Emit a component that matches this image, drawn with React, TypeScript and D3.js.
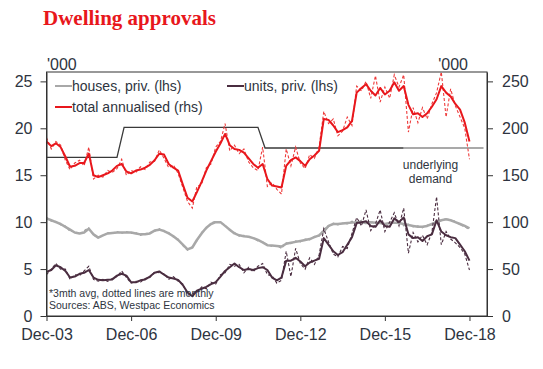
import React, { useEffect, useRef } from 'react';
import * as d3 from 'd3';

// two-monthly readings, Dec-03 .. Dec-18
const totalAvg = [186, 181, 184, 180, 170, 159, 160, 163, 163, 173, 150, 148, 150, 152, 155, 160, 162, 154, 152, 155, 156, 158, 161, 166, 173, 172, 162, 158, 155, 140, 126, 122, 132, 143, 155, 165, 175, 184, 194, 182, 178, 177, 174, 168, 162, 158, 162, 146, 139, 138, 137, 160, 166, 169, 165, 160, 167, 171, 176, 210, 209, 203, 196, 198, 201, 208, 238, 243, 247, 240, 235, 243, 236, 240, 249, 240, 245, 225, 215, 216, 212, 216, 223, 231, 245, 238, 234, 226, 220, 206, 186];
const totalMonthly = [190, 178, 186, 182, 166, 156, 163, 166, 160, 180, 146, 150, 148, 155, 153, 157, 167, 150, 155, 153, 159, 156, 164, 165, 177, 168, 158, 161, 152, 137, 122, 115, 138, 140, 158, 162, 180, 186, 205, 176, 182, 173, 178, 164, 158, 155, 180, 138, 142, 135, 130, 178, 160, 180, 163, 157, 172, 168, 180, 218, 205, 210, 192, 197, 212, 203, 245, 240, 250, 232, 256, 228, 244, 232, 257, 244, 257, 196, 222, 206, 222, 210, 226, 238, 260, 212, 242, 224, 212, 200, 167];
const housesAvg = [10.4, 10.2, 10.0, 9.8, 9.5, 9.2, 8.9, 8.8, 8.9, 9.3, 8.7, 8.35, 8.6, 8.8, 8.85, 8.9, 8.9, 8.9, 8.9, 8.8, 8.7, 8.7, 8.8, 9.1, 9.2, 9.05, 8.8, 8.5, 8.1, 7.6, 7.1, 7.3, 8.1, 8.8, 9.4, 9.8, 10.0, 10.0, 9.6, 9.2, 8.8, 8.6, 8.5, 8.45, 8.3, 8.1, 7.85, 7.55, 7.5, 7.45, 7.4, 7.7, 7.8, 7.9, 8.0, 8.1, 8.2, 8.4, 8.6, 9.0, 9.6, 9.8, 9.8, 9.85, 9.9, 9.95, 10.0, 10.0, 9.9, 10.0, 9.95, 9.9, 9.8, 9.9, 9.95, 9.9, 9.8, 9.7, 9.6, 9.5, 9.5, 9.6, 9.8, 10.0, 10.2, 10.3, 10.2, 10.0, 9.8, 9.6, 9.35];
const housesMonthly = [10.5, 10.1, 10.1, 9.7, 9.6, 9.0, 9.0, 8.7, 9.1, 9.4, 8.6, 8.4, 8.5, 8.9, 8.8, 9.0, 8.8, 9.0, 8.8, 8.9, 8.6, 8.8, 8.9, 9.0, 9.3, 9.0, 8.9, 8.4, 8.2, 7.5, 7.0, 7.4, 8.0, 8.9, 9.3, 9.9, 10.1, 9.9, 9.7, 9.1, 8.9, 8.5, 8.6, 8.4, 8.35, 8.0, 7.9, 7.6, 7.4, 7.5, 7.2, 7.8, 7.7, 8.0, 7.9, 8.2, 8.1, 8.5, 8.5, 9.3, 9.5, 9.9, 9.7, 9.9, 9.8, 10.1, 9.9, 10.2, 9.8, 10.1, 9.8, 10.0, 9.7, 10.0, 9.9, 10.0, 9.6, 9.8, 9.5, 9.6, 9.4, 9.7, 9.7, 10.2, 10.1, 10.4, 10.2, 10.1, 9.7, 9.5, 9.2];
const unitsAvg = [4.7, 4.9, 5.4, 5.2, 4.8, 4.1, 4.2, 4.5, 4.6, 4.9, 4.1, 3.85, 3.8, 3.85, 3.9, 4.3, 4.5, 4.3, 3.6, 3.6, 3.8, 3.9, 4.2, 4.6, 4.75, 4.4, 4.1, 4.0, 3.85, 3.3, 2.5, 2.1, 2.7, 2.9, 3.1, 3.4, 3.6, 4.2, 4.8, 5.2, 5.6, 5.2, 4.9, 5.0, 4.9, 5.1, 5.2, 4.9, 4.1, 3.8, 4.1, 5.9, 5.9, 6.2, 5.8, 5.3, 5.7, 5.9, 6.1, 8.3, 7.6, 6.9, 6.5, 6.8, 7.6, 8.4, 9.9, 10.0, 10.1, 9.6, 9.5, 10.2, 9.6, 9.5, 10.4, 10.0, 10.5, 8.7, 8.3, 8.4, 8.0, 8.5, 8.7, 10.2, 9.0, 8.6, 8.4, 8.3, 7.6, 6.9, 5.9];
const unitsMonthly = [4.4, 5.0, 5.6, 5.0, 5.0, 3.9, 4.4, 4.3, 4.8, 5.3, 3.9, 3.7, 3.9, 3.7, 4.0, 4.2, 4.8, 4.1, 3.5, 3.7, 3.6, 4.0, 4.1, 4.7, 4.6, 4.5, 3.9, 4.2, 3.7, 3.4, 2.2, 2.4, 2.5, 3.1, 2.9, 3.6, 3.4, 4.4, 4.6, 5.5, 5.3, 5.5, 4.6, 5.2, 4.7, 5.3, 5.6, 4.4, 4.3, 3.5, 3.8, 6.9, 4.2, 7.2, 5.6, 5.0, 6.2, 5.5, 6.5, 9.3, 7.9, 6.6, 6.3, 7.4, 7.2, 8.8, 10.5, 9.6, 11.3, 9.1, 9.8, 11.3, 9.0, 10.0, 11.0, 9.6, 11.5, 6.7, 8.9, 7.9, 8.6, 7.6, 8.9, 12.7, 7.6, 9.0, 8.2, 7.8, 7.3, 6.6, 4.9];

// underlying demand ('000, rhs), months after Dec-03
const demandMonths = [0, 30, 33, 90, 93, 152, 186];
const demandValues = [169, 169, 201, 201, 179, 179, 179];

const xTickLabels = ['Dec-03', 'Dec-06', 'Dec-09', 'Dec-12', 'Dec-15', 'Dec-18'];
const leftTicks = [0, 5, 10, 15, 20, 25];
const rightTicks = [0, 50, 100, 150, 200, 250];

const RED = '#e8171c';
const GREY = '#a8a8a8';
const PLUM = '#4a2d40';
const TEXT = '#2e3440';

function DwellingChart() {
  const ref = useRef<SVGSVGElement>(null);

  useEffect(() => {
    const svg = d3.select(ref.current);
    svg.selectAll('*').remove();

    const m = { left: 46.5, right: 487, top: 72, bottom: 316 };
    const start = new Date(2003, 11, 1);
    const dates = totalAvg.map((_, i) => d3.timeMonth.offset(start, i * 2));

    const x = d3.scaleTime()
      .domain([start, new Date(2019, 6, 16)])
      .range([m.left, m.right]);
    const yL = d3.scaleLinear().domain([0, 26]).range([m.bottom, m.top]);
    const yR = d3.scaleLinear().domain([0, 260]).range([m.bottom, m.top]);

    svg.append('text')
      .text('Dwelling approvals')
      .attr('x', 43).attr('y', 25)
      .attr('fill', RED)
      .style('font', 'bold 21px "Liberation Serif", "Times New Roman", serif');

    const g = svg.append('g').style('font-family', '"Liberation Sans", Arial, sans-serif');

    // underlying demand
    const demandPts = demandMonths.map((mo, i) => [x(d3.timeMonth.offset(start, mo)), yR(demandValues[i])] as [number, number]);
    g.append('path')
      .attr('d', d3.line()(demandPts.slice(0, 6)))
      .attr('fill', 'none').attr('stroke', '#3a3a3a').attr('stroke-width', 1.3);
    g.append('path')
      .attr('d', d3.line()(demandPts.slice(5)))
      .attr('fill', 'none').attr('stroke', '#8c8c8c').attr('stroke-width', 1.5);

    const drawPair = (avg: number[], monthly: number[], y: d3.ScaleLinear<number, number>, color: string, dashColor: string, w: number) => {
      const line = d3.line<number>()
        .x((_, i) => x(dates[i]))
        .y(v => y(v));
      g.append('path')
        .attr('d', line(monthly))
        .attr('fill', 'none').attr('stroke', dashColor)
        .attr('stroke-width', 1.1).attr('stroke-dasharray', '3,2');
      g.append('path')
        .attr('d', line(avg))
        .attr('fill', 'none').attr('stroke', color)
        .attr('stroke-width', w).attr('stroke-linejoin', 'round');
    };
    drawPair(housesAvg, housesMonthly, yL, GREY, '#9a9a9a', 2.5);
    drawPair(unitsAvg, unitsMonthly, yL, PLUM, '#4a2d40', 2);
    drawPair(totalAvg, totalMonthly, yR, RED, '#ee3a3a', 2);

    // frame
    g.append('rect')
      .attr('x', m.left).attr('y', m.top)
      .attr('width', m.right - m.left).attr('height', m.bottom - m.top)
      .attr('fill', 'none').attr('stroke', '#333').attr('stroke-width', 1);

    const xAxis = d3.axisBottom(x)
      .tickValues(xTickLabels.map((_, i) => d3.timeMonth.offset(start, i * 36)))
      .tickFormat((_, i) => xTickLabels[i])
      .tickSizeInner(5).tickSizeOuter(0).tickPadding(8);
    const ax = g.append('g').attr('transform', `translate(0,${m.bottom})`).call(xAxis);

    const lAxis = d3.axisLeft(yL).tickValues(leftTicks).tickSizeInner(6).tickSizeOuter(0).tickPadding(8);
    const al = g.append('g').attr('transform', `translate(${m.left},0)`).call(lAxis);

    const rAxis = d3.axisRight(yR).tickValues(rightTicks).tickSizeInner(6).tickSizeOuter(0).tickPadding(9);
    const ar = g.append('g').attr('transform', `translate(${m.right},0)`).call(rAxis);

    [ax, al, ar].forEach(a => {
      a.select('.domain').attr('stroke', '#333');
      a.selectAll('line').attr('stroke', '#333');
      a.selectAll('text').attr('fill', TEXT).style('font-size', '16px').style('font-family', '"Liberation Sans", Arial, sans-serif');
    });

    g.append('text').text("'000").attr('x', 47).attr('y', 70)
      .attr('fill', TEXT).style('font-size', '16px');
    g.append('text').text("'000").attr('x', 468).attr('y', 70).attr('text-anchor', 'end')
      .attr('fill', TEXT).style('font-size', '16px');

    // legend
    const legend = [
      { label: 'houses, priv. (lhs)', color: GREY, x: 55, y: 86 },
      { label: 'units, priv. (lhs)', color: PLUM, x: 227, y: 86 },
      { label: 'total annualised (rhs)', color: RED, x: 55, y: 107 },
    ];
    legend.forEach(l => {
      g.append('line')
        .attr('x1', l.x).attr('x2', l.x + 17)
        .attr('y1', l.y).attr('y2', l.y)
        .attr('stroke', l.color).attr('stroke-width', 2);
      g.append('text').text(l.label)
        .attr('x', l.x + 17).attr('y', l.y + 5)
        .attr('fill', TEXT).style('font-size', '14px');
    });

    g.append('text').attr('text-anchor', 'middle').attr('fill', TEXT).style('font-size', '12px')
      .selectAll('tspan').data(['underlying', 'demand']).join('tspan')
      .attr('x', 430.5).attr('y', (_, i) => 169 + i * 14).text(d => d);

    g.append('text').attr('fill', TEXT).style('font-size', '10.5px')
      .selectAll('tspan').data(['*3mth avg, dotted lines are monthly', 'Sources: ABS, Westpac Economics']).join('tspan')
      .attr('x', 49).attr('y', (_, i) => 297 + i * 12).text(d => d);
  }, []);

  return <svg ref={ref} width={543} height={369} style={{ display: 'block' }} />;
}

export default function App() {
  return (
    <div style={{ margin: -8 }}>
      <DwellingChart />
    </div>
  );
}
